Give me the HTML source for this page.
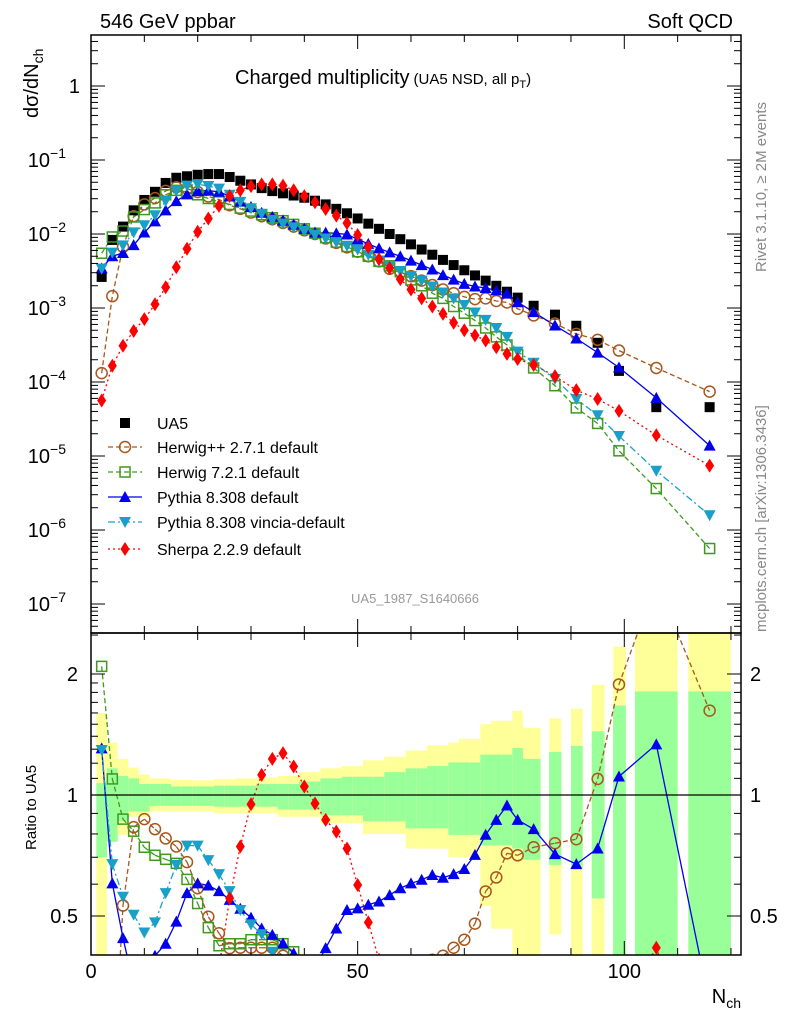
<!DOCTYPE html>
<html><head><meta charset="utf-8"><style>
html,body{margin:0;padding:0;background:#fff;overflow:hidden}
svg{display:block;font-family:"Liberation Sans",sans-serif}
</style></head><body>
<svg id="chart" width="786" height="1024" viewBox="0 0 786 1024" xmlns="http://www.w3.org/2000/svg">
<defs>
<clipPath id="clipTop"><rect x="91" y="35" width="650" height="598"/></clipPath>
<clipPath id="clipRat"><rect x="91" y="633" width="650" height="322"/></clipPath>
</defs>
<rect x="0" y="0" width="786" height="1024" fill="#fff"/>
<g id="bands" clip-path="url(#clipRat)"></g>
<g id="topSeries" clip-path="url(#clipTop)"></g>
<g id="ratSeries" clip-path="url(#clipRat)"></g>
<g id="axes"></g>
<text x="100" y="28" font-size="20">546 GeV ppbar</text>
<text x="733" y="28" font-size="20" text-anchor="end">Soft QCD</text>
<text x="235" y="84" font-size="20">Charged multiplicity<tspan font-size="15" dx="4">(UA5 NSD, all p</tspan><tspan font-size="11" dy="4">T</tspan><tspan font-size="15" dy="-4">)</tspan></text>
<text x="415" y="603" font-size="13" fill="#999" text-anchor="middle">UA5_1987_S1640666</text>
<text transform="translate(38,118) rotate(-90)" font-size="20">dσ/dN<tspan font-size="14" dy="5">ch</tspan></text>
<text transform="translate(36,850) rotate(-90)" font-size="15">Ratio to UA5</text>
<text x="741" y="1003" font-size="20" text-anchor="end">N<tspan font-size="14" dy="5">ch</tspan></text>
<text transform="translate(766,272) rotate(-90)" font-size="15" fill="#888">Rivet 3.1.10, ≥ 2M events</text>
<text transform="translate(766,632) rotate(-90)" font-size="15" fill="#888">mcplots.cern.ch [arXiv:1306.3436]</text>
<g id="legend"></g>
</svg>
<script>
const nch = [2,4,6,8,10,12,14,16,18,20,22,24,26,28,30,32,34,36,38,40,42,44,46,48,50,52,54,56,58,60,62,64,66,68,70,72,74,76,78,80,83,87,91,95,99,106,116];
const binLo = [1,3,5,7,9,11,13,15,17,19,21,23,25,27,29,31,33,35,37,39,41,43,45,47,49,51,53,55,57,59,61,63,65,67,69,71,73,75,77,79,81,85.9,90,93.9,97.9,102,112];
const binHi = [3,5,7,9,11,13,15,17,19,21,23,25,27,29,31,33,35,37,39,41,43,45,47,49,51,53,55,57,59,61,63,65,67,69,71,73,75,77,79,81,84.3,88.2,92.2,96.3,100.3,110,120];
const ua5 = [-2.58,-2.08,-1.90,-1.68,-1.54,-1.43,-1.31,-1.24,-1.22,-1.20,-1.19,-1.19,-1.23,-1.28,-1.33,-1.38,-1.42,-1.45,-1.48,-1.51,-1.55,-1.60,-1.66,-1.72,-1.79,-1.86,-1.93,-2.00,-2.07,-2.14,-2.21,-2.28,-2.35,-2.42,-2.49,-2.56,-2.63,-2.70,-2.78,-2.86,-2.97,-3.09,-3.24,-3.47,-3.85,-4.34,-4.34];
const herwigpp = [-3.88,-2.84,-2.175,-1.76,-1.60,-1.515,-1.418,-1.368,-1.387,-1.432,-1.493,-1.534,-1.611,-1.66,-1.71,-1.76,-1.80,-1.85,-1.90,-1.95,-2.00,-2.06,-2.12,-2.18,-2.24,-2.30,-2.37,-2.47,-2.52,-2.57,-2.63,-2.69,-2.75,-2.80,-2.85,-2.88,-2.87,-2.905,-2.925,-3.01,-3.10,-3.21,-3.35,-3.43,-3.575,-3.81,-4.13];
const herwig7 = [-2.26,-2.04,-1.96,-1.77,-1.67,-1.58,-1.47,-1.41,-1.43,-1.47,-1.52,-1.565,-1.60,-1.65,-1.69,-1.74,-1.78,-1.82,-1.87,-1.93,-1.99,-2.05,-2.11,-2.17,-2.24,-2.30,-2.37,-2.43,-2.51,-2.62,-2.70,-2.80,-2.87,-2.98,-3.07,-3.17,-3.27,-3.39,-3.50,-3.63,-3.81,-4.05,-4.35,-4.56,-4.93,-5.44,-6.25];
const pythia = [-2.464,-2.30,-2.256,-2.15,-1.98,-1.83,-1.68,-1.555,-1.464,-1.42,-1.415,-1.429,-1.491,-1.563,-1.635,-1.712,-1.768,-1.819,-1.874,-1.93,-1.98,-1.981,-1.992,-2.006,-2.072,-2.133,-2.195,-2.249,-2.302,-2.36,-2.421,-2.479,-2.556,-2.617,-2.674,-2.709,-2.729,-2.762,-2.806,-2.922,-3.055,-3.237,-3.412,-3.603,-3.804,-4.214,-4.86];
const vincia = [-2.468,-2.252,-2.153,-1.978,-1.882,-1.747,-1.554,-1.414,-1.346,-1.326,-1.352,-1.387,-1.469,-1.566,-1.652,-1.726,-1.81,-1.86,-1.91,-1.96,-2.01,-2.06,-2.11,-2.16,-2.21,-2.28,-2.36,-2.43,-2.50,-2.57,-2.63,-2.71,-2.79,-2.87,-2.96,-3.06,-3.16,-3.27,-3.39,-3.59,-3.74,-3.96,-4.23,-4.45,-4.73,-5.20,-5.80];
const sherpa = [-4.25,-3.78,-3.51,-3.31,-3.15,-2.95,-2.72,-2.45,-2.20,-1.97,-1.79,-1.62,-1.487,-1.408,-1.353,-1.33,-1.33,-1.346,-1.409,-1.489,-1.571,-1.662,-1.751,-1.853,-2.014,-2.177,-2.34,-2.46,-2.61,-2.75,-2.87,-2.98,-3.08,-3.20,-3.30,-3.37,-3.44,-3.53,-3.62,-3.69,-3.77,-3.92,-4.11,-4.23,-4.39,-4.72,-5.13];
const yelUp = [1.60,1.35,1.23,1.17,1.125,1.10,1.10,1.09,1.09,1.088,1.088,1.095,1.095,1.10,1.10,1.105,1.105,1.115,1.115,1.14,1.14,1.165,1.165,1.18,1.18,1.22,1.22,1.245,1.245,1.29,1.29,1.33,1.33,1.35,1.38,1.38,1.50,1.53,1.53,1.62,1.47,1.55,1.64,1.88,2.34,3,3];
const grnUp = [1.07,1.165,1.115,1.10,1.065,1.065,1.065,1.05,1.05,1.05,1.05,1.055,1.055,1.055,1.055,1.065,1.065,1.065,1.065,1.08,1.08,1.10,1.10,1.11,1.11,1.11,1.11,1.14,1.14,1.165,1.165,1.18,1.18,1.205,1.205,1.205,1.26,1.26,1.26,1.31,1.23,1.28,1.325,1.44,1.67,1.81,1.81];
const grnLo = [0.70,0.765,0.86,0.91,0.91,0.94,0.94,0.94,0.94,0.94,0.94,0.935,0.935,0.935,0.935,0.935,0.935,0.92,0.92,0.92,0.92,0.89,0.89,0.89,0.89,0.86,0.86,0.86,0.86,0.826,0.826,0.826,0.826,0.796,0.796,0.796,0.75,0.75,0.75,0.736,0.69,0.67,0.657,0.553,0.35,0.35,0.35];
const yelLo = [0.35,0.765,0.796,0.883,0.883,0.91,0.91,0.91,0.91,0.91,0.91,0.90,0.90,0.90,0.90,0.90,0.90,0.883,0.883,0.883,0.883,0.85,0.85,0.85,0.85,0.80,0.80,0.80,0.80,0.736,0.736,0.736,0.736,0.70,0.70,0.70,0.53,0.465,0.465,0.35,0.35,0.45,0.35,0.35,0.35,0.35,0.35];
const xTicks = [0,50,100];
const decades = [0,-1,-2,-3,-4,-5,-6,-7];
const ratioTicks = [0.5,1,2];

const NS='http://www.w3.org/2000/svg';
const X0=91,X1=741,T0=35,T1=633,R1=955;
const xs = n => 91 + 5.333*n;
const ys = lg => 86 - 74*lg;
const rs = r => 795 - 121*Math.log2(r);
const clampR = r => Math.min(Math.max(r,0.39),2.6);
function mk(tag, attrs, parent){const e=document.createElementNS(NS,tag);for(const k in attrs)e.setAttribute(k,attrs[k]);parent.appendChild(e);return e;}

const bands=document.getElementById('bands');
nch.forEach((n,i)=>{
  const x0=xs(binLo[i]), w=xs(binHi[i])-x0;
  const yt=rs(clampR(yelUp[i])), yb=rs(clampR(yelLo[i])), gt=rs(clampR(grnUp[i])), gb=rs(clampR(grnLo[i]));
  const y1=mk('rect',{x:x0,y:yt,width:w,height:yb-yt,fill:'#ffff99'},bands);
  
  
  const g1=mk('rect',{x:x0,y:gt,width:w,height:gb-gt,fill:'#99ff99'},bands);
  
  
});

const ax=document.getElementById('axes');
mk('rect',{x:X0,y:T0,width:X1-X0,height:T1-T0,fill:'none',stroke:'#000','stroke-width':1.5},ax);
mk('rect',{x:X0,y:T1,width:X1-X0,height:R1-T1,fill:'none',stroke:'#000','stroke-width':1.5},ax);
mk('line',{x1:X0,x2:X1,y1:rs(1),y2:rs(1),stroke:'#000','stroke-width':1.2},ax);
for(let v=0;v<=120;v+=10){
  const big=v%50===0, L=big?14:7;
  [[T0,1],[T1,1],[T1,-1],[R1,-1]].forEach(([y,d])=>mk('line',{x1:xs(v),x2:xs(v),y1:y,y2:y+d*L,stroke:'#000','stroke-width':1},ax));
}
xTicks.forEach(v=>{const t=mk('text',{x:xs(v),y:978,'font-size':20,'text-anchor':'middle'},ax);t.textContent=v;
  
  });
decades.forEach(d=>{
  const y=ys(d);
  mk('line',{x1:X0,x2:X0+14,y1:y,y2:y,stroke:'#000'},ax);
  mk('line',{x1:X1,x2:X1-14,y1:y,y2:y,stroke:'#000'},ax);
  for(let m=2;m<=9;m++){const ym=ys(d-1+Math.log10(m));if(ym>T0&&ym<T1){
    mk('line',{x1:X0,x2:X0+7,y1:ym,y2:ym,stroke:'#000'},ax);mk('line',{x1:X1,x2:X1-7,y1:ym,y2:ym,stroke:'#000'},ax);}}
  const t=mk('text',{x:80,y:y+7,'font-size':20,'text-anchor':'end'},ax);
  
  
  if(d===0){t.textContent='1';}
  else{t.setAttribute('x',66);t.textContent='10';const s=document.createElementNS(NS,'tspan');s.setAttribute('dy',-9);s.setAttribute('font-size',14);s.textContent='−'+(-d);t.appendChild(s);}
});
for(let m=2;m<=4;m++){const ym=ys(Math.log10(m));mk('line',{x1:X0,x2:X0+7,y1:ym,y2:ym,stroke:'#000'},ax);mk('line',{x1:X1,x2:X1-7,y1:ym,y2:ym,stroke:'#000'},ax);}
[0.4,0.5,0.6,0.7,0.8,0.9,1,1.1,1.2,1.3,1.4,1.5,1.6,1.7,1.8,1.9,2,2.5].forEach(r=>{
  const big=ratioTicks.includes(r),L=big?14:7,y=rs(r);
  mk('line',{x1:X0,x2:X0+L,y1:y,y2:y,stroke:'#000'},ax);mk('line',{x1:X1,x2:X1-L,y1:y,y2:y,stroke:'#000'},ax);
});
ratioTicks.forEach(r=>{
  const t=mk('text',{x:78,y:rs(r)+7,'font-size':20,'text-anchor':'end'},ax);t.textContent=r;
  
  
  const t2=mk('text',{x:750,y:rs(r)+7,'font-size':20},ax);t2.textContent=r;
  
  
});

function marker(type,color,x,y,parent){
  let e;
  if(type==='fsq') e=mk('rect',{x:x-5,y:y-5,width:10,height:10,fill:color},parent);
  else if(type==='osq') e=mk('rect',{x:x-5,y:y-5,width:10,height:10,fill:'none',stroke:color,'stroke-width':1.5},parent);
  else if(type==='oc') e=mk('circle',{cx:x,cy:y,r:5.5,fill:'none',stroke:color,'stroke-width':1.5},parent);
  else if(type==='tu') e=mk('polygon',{points:`${x},${y-6} ${x-6},${y+5} ${x+6},${y+5}`,fill:color},parent);
  else if(type==='td') e=mk('polygon',{points:`${x},${y+6} ${x-6},${y-5} ${x+6},${y-5}`,fill:color},parent);
  else e=mk('polygon',{points:`${x},${y-7} ${x-4.5},${y} ${x},${y+7} ${x+4.5},${y}`,fill:color},parent);
  return e;
}
// clip a polyline to vertical band [ya,yb], returning path d
function clipPath(pts, ya, yb){
  let d='';
  for(let k=0;k<pts.length-1;k++){
    let [x1,y1]=pts[k],[x2,y2]=pts[k+1];
    let t0=0,t1=1;const dy=y2-y1;
    if(dy===0){ if(y1<ya||y1>yb) continue; }
    else{
      let ta=(ya-y1)/dy, tb=(yb-y1)/dy;
      if(ta>tb){const tt=ta;ta=tb;tb=tt;}
      t0=Math.max(t0,ta);t1=Math.min(t1,tb);
      if(t0>=t1) continue;
    }
    const ax1=x1+(x2-x1)*t0, ay1=y1+dy*t0, ax2=x1+(x2-x1)*t1, ay2=y1+dy*t1;
    d+=`M${ax1.toFixed(2)},${ay1.toFixed(2)}L${ax2.toFixed(2)},${ay2.toFixed(2)}`;
  }
  return d;
}
const seriesList=[
  {name:'Herwig++ 2.7.1 default',key:'herwig-pp',d:herwigpp,c:'#a8561c',m:'oc',dash:'5,3'},
  {name:'Herwig 7.2.1 default',key:'herwig7',d:herwig7,c:'#3d9a1c',m:'osq',dash:'5,3'},
  {name:'Pythia 8.308 default',key:'pythia',d:pythia,c:'#0000ee',m:'tu',dash:''},
  {name:'Pythia 8.308 vincia-default',key:'pythia-vincia',d:vincia,c:'#1aa0c8',m:'td',dash:'7,3,2,3'},
  {name:'Sherpa 2.2.9 default',key:'sherpa',d:sherpa,c:'#ff0000',m:'dm',dash:'2,3'}
];
const topG=document.getElementById('topSeries'), ratG=document.getElementById('ratSeries');
seriesList.forEach(s=>{
  const pts=nch.map((n,i)=>xs(n)+','+ys(s.d[i])).join(' ');
  const pl=mk('polyline',{points:pts,fill:'none',stroke:s.c,'stroke-width':1.3,'stroke-dasharray':s.dash},topG);
  
  
  const rpts=nch.map((n,i)=>[xs(n),rs(Math.pow(10,s.d[i]-ua5[i]))]);
  const rl=mk('path',{d:clipPath(rpts,T1,R1),fill:'none',stroke:s.c,'stroke-width':1.3,'stroke-dasharray':s.dash},ratG);
  
  
});
nch.forEach((n,i)=>{const e=marker('fsq','#000',xs(n),ys(ua5[i]),topG);
  
  });
seriesList.forEach(s=>{
  nch.forEach((n,i)=>{
    const e=marker(s.m,s.c,xs(n),ys(s.d[i]),topG);
    
    
    const ry=rs(Math.pow(10,s.d[i]-ua5[i]));
    if(ry>T1-8 && ry<R1+8){
      const e2=marker(s.m,s.c,xs(n),ry,ratG);
      
      
    }
  });
});

const lg=document.getElementById('legend');
const rowsY=[423,447,472,497,522,549];
const ua=marker('fsq','#000',125,rowsY[0],lg);


const ut=mk('text',{x:157,y:rowsY[0]+6,'font-size':16},lg);ut.textContent='UA5';


seriesList.forEach((s,k)=>{
  const y=rowsY[k+1];
  mk('line',{x1:108,x2:142,y1:y,y2:y,stroke:s.c,'stroke-width':1.3,'stroke-dasharray':s.dash},lg);
  const m=marker(s.m,s.c,125,y,lg);
  
  
  const t=mk('text',{x:157,y:y+6,'font-size':16},lg);t.textContent=s.name;
  
  
});
</script>
</body></html>
